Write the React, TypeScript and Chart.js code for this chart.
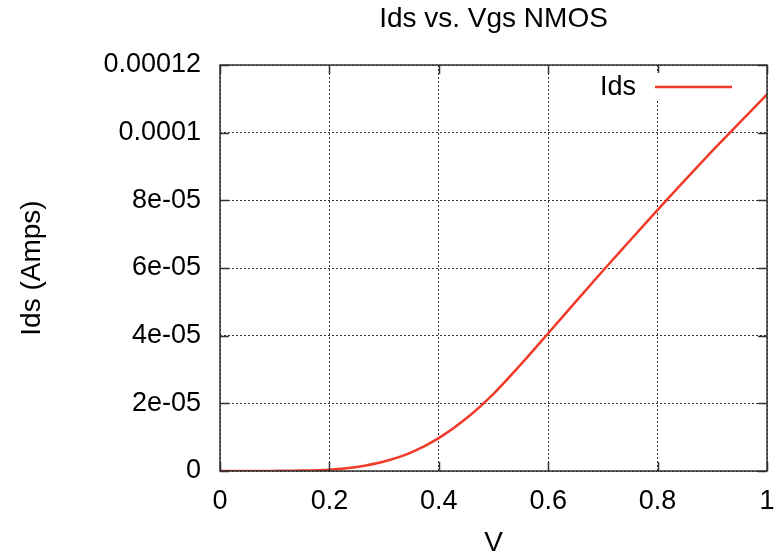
import React, { useEffect, useRef } from "react";
import { Chart, registerables } from "chart.js";

Chart.register(...registerables);

const chartTitle = "Ids vs. Vgs NMOS";
const xAxisTitle = "V";
const yAxisTitle = "Ids (Amps)";
const seriesLabel = "Ids";

const vgs = [0, 0.05, 0.1, 0.15, 0.2, 0.25, 0.3, 0.35, 0.4, 0.45, 0.5, 0.55, 0.6, 0.65, 0.7, 0.75, 0.8, 0.85, 0.9, 0.95, 1.0];
const ids = [
  0, 0.005e-6, 0.03e-6, 0.12e-6, 0.4e-6, 1.2e-6, 2.8e-6, 5.5e-6, 9.7e-6, 15.5e-6, 22.8e-6,
  31.5e-6, 40.7e-6, 50.0e-6, 59.2e-6, 68.2e-6, 77.2e-6, 86.0e-6, 94.6e-6, 103.0e-6, 111.3e-6,
];

const xTickLabels = ["0", "0.2", "0.4", "0.6", "0.8", "1"];
const yTickLabels = ["0", "2e-05", "4e-05", "6e-05", "8e-05", "0.0001", "0.00012"];

const FONT = "'Liberation Sans', Arial, Helvetica, sans-serif";
const LINE_COLOR = "#f03a2a";

const framePlugin = {
  id: "gnuplotFrame",
  afterDraw(chart: any) {
    const { ctx, chartArea } = chart;
    const { left, right, top, bottom } = chartArea;
    const xs = chart.scales.x;
    const ys = chart.scales.y;
    const tick = 9;
    ctx.save();
    ctx.strokeStyle = "#333";
    ctx.lineWidth = 1.5;
    ctx.setLineDash([]);
    ctx.beginPath();
    xs.ticks.forEach((_t: any, i: number) => {
      const px = Math.round(xs.getPixelForTick(i)) + 0.5;
      ctx.moveTo(px, bottom);
      ctx.lineTo(px, bottom - tick);
      ctx.moveTo(px, top);
      ctx.lineTo(px, top + tick);
    });
    ys.ticks.forEach((_t: any, i: number) => {
      const py = Math.round(ys.getPixelForTick(i)) + 0.5;
      ctx.moveTo(left, py);
      ctx.lineTo(left + tick, py);
      ctx.moveTo(right, py);
      ctx.lineTo(right - tick, py);
    });
    ctx.stroke();
    ctx.strokeRect(left, top, right - left, bottom - top);

    // key (legend) inside plot, top-right
    const ds = chart.data.datasets[0];
    const y = top + 22;
    const lineRight = right - 35;
    const lineLeft = lineRight - 77;
    ctx.font = `27px ${FONT}`;
    const tw = ctx.measureText(ds.label).width;
    const textRight = lineLeft - 19;
    ctx.fillStyle = "#fff";
    ctx.fillRect(textRight - tw - 6, y - 14, lineRight - textRight + tw + 12, 28);
    ctx.strokeStyle = ds.borderColor;
    ctx.lineWidth = ds.borderWidth;
    ctx.beginPath();
    ctx.moveTo(lineLeft, y);
    ctx.lineTo(lineRight, y);
    ctx.stroke();
    ctx.fillStyle = "#000";
    ctx.textAlign = "right";
    ctx.textBaseline = "middle";
    ctx.fillText(ds.label, textRight, y + 1);
    ctx.restore();
  },
};

export default function App() {
  const canvasRef = useRef<HTMLCanvasElement | null>(null);

  useEffect(() => {
    if (!canvasRef.current) return;
    const chart = new Chart(canvasRef.current, {
      type: "line",
      data: {
        datasets: [
          {
            label: seriesLabel,
            data: vgs.map((v, i) => ({ x: v, y: ids[i] })),
            borderColor: LINE_COLOR,
            backgroundColor: LINE_COLOR,
            borderWidth: 2.5,
            pointRadius: 0,
            cubicInterpolationMode: "monotone",
            fill: false,
          },
        ],
      },
      options: {
        animation: false,
        responsive: true,
        maintainAspectRatio: false,
        layout: { padding: { left: 0, right: 11, top: 0, bottom: 0 } },
        plugins: {
          legend: { display: false },
          tooltip: { enabled: false },
          title: {
            display: true,
            text: chartTitle,
            fullSize: false,
            color: "#000",
            font: { family: FONT, size: 28, weight: "normal", lineHeight: 1.2 },
            padding: { top: 2, bottom: 29.4 },
          },
        },
        scales: {
          x: {
            type: "linear",
            min: 0,
            max: 1,
            border: { display: false, dash: [2, 2] },
            grid: {
              color: "rgba(0,0,0,0.8)",
              lineWidth: 1,
              drawTicks: false,
            },
            ticks: {
              stepSize: 0.2,
              padding: 14,
              color: "#000",
              font: { family: FONT, size: 27 },
              maxRotation: 0,
              callback: (v: any) => xTickLabels[Math.round(Number(v) / 0.2)] ?? "",
            },
            title: {
              display: true,
              text: xAxisTitle,
              color: "#000",
              font: { family: FONT, size: 28, lineHeight: 0.86 },
              padding: { top: 0, bottom: 0 },
            },
            afterFit: (scale: any) => {
              scale.height = 84;
              scale.paddingLeft = 0;
              scale.paddingRight = 0;
            },
          },
          y: {
            type: "linear",
            min: 0,
            max: 0.00012,
            border: { display: false, dash: [2, 2] },
            grid: {
              color: "rgba(0,0,0,0.8)",
              lineWidth: 1,
              drawTicks: false,
            },
            ticks: {
              stepSize: 0.00002,
              padding: 19,
              color: "#000",
              font: { family: FONT, size: 27 },
              callback: (v: any) => yTickLabels[Math.round(Number(v) / 0.00002)] ?? "",
            },
            title: {
              display: true,
              text: yAxisTitle,
              color: "#000",
              font: { family: FONT, size: 28, lineHeight: 1.2 },
              padding: { top: 15, bottom: 0 },
            },
            afterFit: (scale: any) => {
              scale.width = 220;
            },
          },
        },
      } as any,
      plugins: [framePlugin],
    });
    return () => chart.destroy();
  }, []);

  return (
    <div style={{ position: "absolute", left: 0, top: 0, width: 778, height: 555, background: "#fff" }}>
      <canvas ref={canvasRef} />
    </div>
  );
}
